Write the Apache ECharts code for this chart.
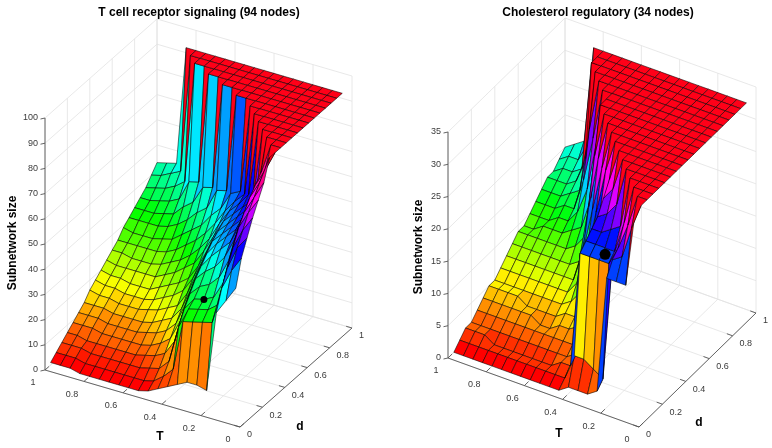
<!DOCTYPE html>
<html>
<head>
<meta charset="utf-8">
<script src="https://cdn.jsdelivr.net/npm/echarts@6/dist/echarts.min.js"></script>
<style>
html,body{margin:0;padding:0;background:#fff;}
#chart{width:772px;height:448px;}
</style>
</head>
<body>
<div id="chart"></div>
<script>
// ---------------- DATA ----------------
const titles = ['T cell receptor signaling (94 nodes)', 'Cholesterol regulatory (34 nodes)'];
const tValues = [1.00,0.95,0.90,0.85,0.80,0.75,0.70,0.65,0.60,0.55,0.50,0.45,0.40,0.35,0.30,0.25,0.20,0.15,0.10,0.05];
const dValues = [0.05,0.10,0.15,0.20,0.25,0.30,0.35,0.40,0.45,0.50,0.55,0.60,0.65,0.70,0.75,0.80,0.85,0.90,0.95,1.00];
const tTicks = [0,0.2,0.4,0.6,0.8,1];
const dTicks = [0,0.2,0.4,0.6,0.8,1];
const tcrZTicks = [0,10,20,30,40,50,60,70,80,90,100];
const cholZTicks = [0,5,10,15,20,25,30,35];

// subnetwork size, one column per T value (tValues order), listed along d (dValues order)
const tcrZ = [
  [1,3,5,7,9,11,13,16,18,20,22,24,26,29,31,33,35,37,40,43],
  [1,3,5,7,9,11,13,15,17,19,21,24,26,28,31,33,35,38,41,44],
  [1,3,5,6,9,11,13,15,17,19,21,23,26,28,31,33,36,39,43,45],
  [0,2,4,6,8,10,12,14,16,18,21,23,26,28,31,34,37,41,45,92],
  [0,2,4,6,8,10,12,14,16,18,21,23,26,29,32,35,39,44,92,92],
  [0,2,4,6,8,10,12,14,16,18,21,24,27,30,34,39,47,92,92,92],
  [0,2,4,6,8,10,12,15,17,20,23,26,29,33,37,42,48,92,92,92],
  [0,2,4,6,8,11,13,16,19,22,25,28,32,36,41,49,92,92,92,92],
  [0,2,4,7,9,12,15,18,21,24,28,31,35,39,44,50,92,92,92,92],
  [0,2,5,8,11,14,17,20,24,27,31,35,39,44,52,92,92,92,92,92],
  [1,3,6,10,14,18,22,26,30,33,37,40,44,48,53,92,92,92,92,92],
  [3,6,10,16,22,27,31,35,38,41,44,47,50,55,92,92,92,92,92,92],
  [5,10,25,30,34,38,41,44,47,49,51,53,55,57,92,92,92,92,92,92],
  [7,30,33,35,38,42,46,49,51,53,55,57,59,92,92,92,92,92,92,92],
  [9,31,34,36,40,45,50,53,55,57,59,62,92,92,92,92,92,92,92,92],
  [9,32,35,38,44,50,54,57,59,61,63,92,92,92,92,92,92,92,92,92],
  [8,33,38,45,52,58,62,65,67,69,92,92,92,92,92,92,92,92,92,92],
  [40,48,54,60,66,70,74,77,80,92,92,92,92,92,92,92,92,92,92,92],
  [46,56,63,68,73,77,81,84,92,92,92,92,92,92,92,92,92,92,92,92],
  [52,62,68,74,79,84,92,92,92,92,92,92,92,92,92,92,92,92,92,92]
];
const cholZ = [
  [0,1,2,2,3,4,5,5,6,7,8,9,9,10,11,12,13,13,14,15],
  [0,1,2,2,3,4,5,5,6,7,8,9,9,10,11,12,13,14,15,16],
  [0,1,2,2,3,4,5,5,6,7,8,9,10,10,11,12,13,14,15,17],
  [0,1,1,2,3,4,5,5,6,7,8,9,10,11,12,13,14,15,18,32],
  [0,1,1,2,3,4,4,5,6,7,8,9,10,11,12,14,18,32,32,32],
  [0,1,1,2,3,4,4,5,6,7,8,9,11,13,17,24,32,32,32,32],
  [0,1,1,2,3,3,4,5,6,7,8,10,12,17,24,32,32,32,32,32],
  [0,1,1,2,3,3,4,5,6,7,9,12,17,25,32,32,32,32,32,32],
  [0,1,1,2,3,4,5,6,8,12,18,25,32,32,32,32,32,32,32,32],
  [0,1,1,2,3,4,5,8,13,19,26,32,32,32,32,32,32,32,32,32],
  [0,1,2,2,3,5,9,14,20,26,32,32,32,32,32,32,32,32,32,32],
  [0,1,2,3,6,11,16,21,27,32,32,32,32,32,32,32,32,32,32,32],
  [1,5,20,21,22,23,25,27,32,32,32,32,32,32,32,32,32,32,32,32],
  [1,5,20,21,22,24,27,32,32,32,32,32,32,32,32,32,32,32,32,32],
  [1,4,20,21,23,26,32,32,32,32,32,32,32,32,32,32,32,32,32,32],
  [2,3,20,21,24,32,32,32,32,32,32,32,32,32,32,32,32,32,32,32],
  [20,22,23,26,32,32,32,32,32,32,32,32,32,32,32,32,32,32,32,32],
  [20,23,27,32,32,32,32,32,32,32,32,32,32,32,32,32,32,32,32,32],
  [20,28,32,32,32,32,32,32,32,32,32,32,32,32,32,32,32,32,32,32],
  [32,32,32,32,32,32,32,32,32,32,32,32,32,32,32,32,32,32,32,32]
];
// marked parameter point [T, d, size]
const tcrDot = [0.30, 0.20, 36];
const cholDot = [0.30, 0.20, 20];

// ---------------- LAYOUT / STYLE ----------------
const panels = [
  { Z: tcrZ, zTicks: tcrZTicks, dot: tcrDot, title: titles[0],
    origin: [240, 427], aT: [-195, -57], bD: [112, -99], zPx: 252, zMax: 100,
    tTitle: [160, 437], dTitle: [300, 427], yTitle: [13, 243], titlePos: [199, 13], dotR: 3.5 },
  { Z: cholZ, zTicks: cholZTicks, dot: cholDot, title: titles[1],
    origin: [639, 427], aT: [-191, -69], bD: [117, -114], zPx: 226, zMax: 35,
    tTitle: [559, 434], dTitle: [699, 423], yTitle: [419, 247], titlePos: [598, 13], dotR: 5.5 }
];

function project(p, T, d, z) {
  return [p.origin[0] + p.aT[0] * T + p.bD[0] * d,
          p.origin[1] + p.aT[1] * T + p.bD[1] * d - p.zPx * z / p.zMax];
}
function camera(p) {
  const ax = p.aT[0], ay = p.aT[1], bx = p.bD[0], by = p.bD[1], cz = -p.zPx;
  const s = Math.hypot(ax, bx);
  const h = Math.abs(cz) / Math.sqrt(Math.max(1, s * s - ay * ay - by * by));
  const R1 = [ax / s, bx / s, 0], R2 = [ay / s, by / s, cz / (s * h)];
  const R3 = [R1[1] * R2[2] - R1[2] * R2[1], R1[2] * R2[0] - R1[0] * R2[2], R1[0] * R2[1] - R1[1] * R2[0]];
  return { R3, h };
}
function hsvColor(z, zmin, zmax) {
  let idx = Math.floor((z - zmin) / (zmax - zmin) * 64);
  idx = Math.max(0, Math.min(63, idx));
  const h6 = idx / 64 * 6, k = Math.floor(h6), f = h6 - k;
  let r, g, b;
  switch (k % 6) {
    case 0: r = 1; g = f; b = 0; break;
    case 1: r = 1 - f; g = 1; b = 0; break;
    case 2: r = 0; g = 1; b = f; break;
    case 3: r = 0; g = 1 - f; b = 1; break;
    case 4: r = f; g = 0; b = 1; break;
    default: r = 1; g = 0; b = 1 - f;
  }
  return 'rgb(' + Math.round(r * 255) + ',' + Math.round(g * 255) + ',' + Math.round(b * 255) + ')';
}

const faces = [], lines = [], axisLines = [], texts = [], dots = [];
const tickFont = '9px "Liberation Sans", Arial, sans-serif';
const boldFont = 'bold 12px "Liberation Sans", Arial, sans-serif';

panels.forEach(function (p) {
  const cam = camera(p);
  const depth = (T, d, z) => cam.R3[0] * T + cam.R3[1] * d + cam.R3[2] * cam.h * z / p.zMax;
  const all = [].concat.apply([], p.Z);
  const zmin = Math.min.apply(null, all), zmax = Math.max.apply(null, all);
  const pf = [];
  for (let j = 0; j < tValues.length - 1; j++) {
    for (let i = 0; i < dValues.length - 1; i++) {
      const c = [[j, i], [j + 1, i], [j + 1, i + 1], [j, i + 1]];
      const pts = c.map(q => project(p, tValues[q[0]], dValues[q[1]], p.Z[q[0]][q[1]]));
      let dep = 0;
      c.forEach(q => { dep += depth(tValues[q[0]], dValues[q[1]], p.Z[q[0]][q[1]]); });
      pf.push({ pts: pts, color: hsvColor(p.Z[j + 1][i], zmin, zmax), dep: dep / 4 });
    }
  }
  pf.sort((a, b) => a.dep - b.dep);
  pf.forEach(f => faces.push(f));

  const P = (T, d, z) => project(p, T, d, z);
  const zTop = p.zMax;
  dTicks.forEach(d => lines.push([P(1, d, 0), P(1, d, zTop)]));
  p.zTicks.forEach(z => lines.push([P(1, 0, z), P(1, 1, z)]));
  tTicks.forEach(T => lines.push([P(T, 1, 0), P(T, 1, zTop)]));
  p.zTicks.forEach(z => lines.push([P(0, 1, z), P(1, 1, z)]));
  tTicks.forEach(T => lines.push([P(T, 0, 0), P(T, 1, 0)]));
  dTicks.forEach(d => lines.push([P(0, d, 0), P(1, d, 0)]));

  axisLines.push([P(1, 0, 0), P(1, 0, zTop)]);
  axisLines.push([P(1, 0, 0), P(0, 0, 0)]);
  axisLines.push([P(0, 0, 0), P(0, 1, 0)]);
  p.zTicks.forEach(z => {
    const a = P(1, 0, z);
    axisLines.push([a, [a[0] - 4.5, a[1] + 1]]);
    texts.push({ x: a[0] - 7, y: a[1], text: String(z), align: 'right', va: 'middle', font: tickFont, fill: '#3a3a3a' });
  });
  tTicks.forEach(T => {
    const a = P(T, 0, 0);
    axisLines.push([a, P(T, 0.035, 0)]);
    texts.push({ x: a[0] - 12, y: a[1] + 13, text: String(T), align: 'center', va: 'middle', font: tickFont, fill: '#3a3a3a' });
  });
  dTicks.forEach(d => {
    const a = P(0, d, 0);
    axisLines.push([a, P(0.03, d, 0)]);
    texts.push({ x: a[0] + 7, y: a[1] + 8, text: String(d), align: 'left', va: 'middle', font: tickFont, fill: '#3a3a3a' });
  });
  texts.push({ x: p.tTitle[0], y: p.tTitle[1], text: 'T', align: 'center', va: 'middle', font: boldFont, fill: '#000' });
  texts.push({ x: p.dTitle[0], y: p.dTitle[1], text: 'd', align: 'center', va: 'middle', font: boldFont, fill: '#000' });
  texts.push({ x: p.yTitle[0], y: p.yTitle[1], text: 'Subnetwork size', align: 'center', va: 'middle', font: boldFont, fill: '#000', rot: Math.PI / 2 });
  texts.push({ x: p.titlePos[0], y: p.titlePos[1], text: p.title, align: 'center', va: 'middle', font: boldFont, fill: '#000' });

  const dp = P(p.dot[0], p.dot[1], p.dot[2]);
  dots.push({ c: dp, r: p.dotR });
});

function idxData(arr) { return arr.map((_, k) => [k, k]); }

const option = {
  backgroundColor: '#fff',
  animation: false,
  grid: { left: 0, right: 0, top: 0, bottom: 0, containLabel: false },
  xAxis: { type: 'value', min: 0, max: 772, show: false },
  yAxis: { type: 'value', min: 0, max: 448, inverse: true, show: false },
  series: [
    { type: 'custom', name: 'grid', clip: false, silent: true, data: idxData(lines),
      renderItem: function (params, api) {
        const l = lines[params.dataIndex];
        const a = api.coord(l[0]), b = api.coord(l[1]);
        return { type: 'line', shape: { x1: a[0], y1: a[1], x2: b[0], y2: b[1] },
                 style: { stroke: '#e2e2e2', lineWidth: 0.8 } };
      } },
    { type: 'custom', name: 'axes', clip: false, silent: true, data: idxData(axisLines),
      renderItem: function (params, api) {
        const l = axisLines[params.dataIndex];
        const a = api.coord(l[0]), b = api.coord(l[1]);
        return { type: 'line', shape: { x1: a[0], y1: a[1], x2: b[0], y2: b[1] },
                 style: { stroke: '#555', lineWidth: 0.9 } };
      } },
    { type: 'custom', name: 'surface', clip: false, silent: true, data: idxData(faces),
      renderItem: function (params, api) {
        const f = faces[params.dataIndex];
        return { type: 'polygon', shape: { points: f.pts.map(q => api.coord(q)) },
                 style: { fill: f.color, stroke: '#000', lineWidth: 0.55, lineJoin: 'round' } };
      } },
    { type: 'custom', name: 'point', clip: false, silent: true, data: idxData(dots),
      renderItem: function (params, api) {
        const d = dots[params.dataIndex];
        const c = api.coord(d.c);
        return { type: 'circle', shape: { cx: c[0], cy: c[1], r: d.r }, style: { fill: '#000' } };
      } },
    { type: 'custom', name: 'labels', clip: false, silent: true, data: idxData(texts),
      renderItem: function (params, api) {
        const t = texts[params.dataIndex];
        const c = api.coord([t.x, t.y]);
        return { type: 'text', x: c[0], y: c[1], rotation: t.rot || 0,
                 style: { text: t.text, x: 0, y: 0, fill: t.fill, font: t.font,
                          align: t.align, verticalAlign: t.va } };
      } }
  ]
};
const chart = echarts.init(document.getElementById('chart'), null, { renderer: 'canvas' });
chart.setOption(option);
</script>
</body>
</html>
